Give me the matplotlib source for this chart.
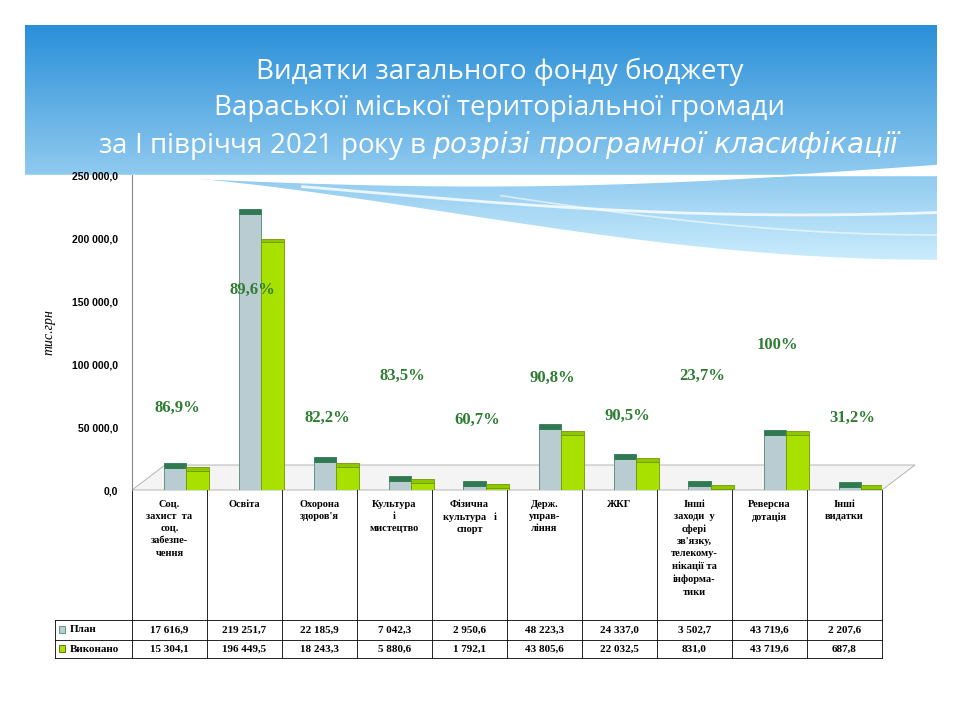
import numpy as np
import matplotlib
matplotlib.use("Agg")
import matplotlib.pyplot as plt
from matplotlib.patches import Polygon, Rectangle

categories = ["Соц.\nзахист  та\nсоц.\nзабезпе-\nчення", "Освіта", "Охорона\nздоров'я",
              "Культура\nі\nмистецтво", "Фізична\nкультура   і\nспорт", "Держ.\nуправ-\nління",
              "ЖКГ", "Інші\nзаходи  у\nсфері\nзв'язку,\nтелекому-\nнікації та\nінформа-\nтики",
              "Реверсна\nдотація", "Інші\nвидатки"]
plan = [17616.9, 219251.7, 22185.9, 7042.3, 2950.6, 48223.3, 24337.0, 3502.7, 43719.6, 2207.6]
done = [15304.1, 196449.5, 18243.3, 5880.6, 1792.1, 43805.6, 22032.5, 831.0, 43719.6, 687.8]
pct = ["86,9%", "89,6%", "82,2%", "83,5%", "60,7%", "90,8%", "90,5%", "23,7%", "100%", "31,2%"]
label_y = [65000, 158700, 57000, 90500, 55500, 89000, 58700, 90500, 115000, 57000]
plan_txt = ["17 616,9", "219 251,7", "22 185,9", "7 042,3", "2 950,6", "48 223,3",
            "24 337,0", "3 502,7", "43 719,6", "2 207,6"]
done_txt = ["15 304,1", "196 449,5", "18 243,3", "5 880,6", "1 792,1", "43 805,6",
            "22 032,5", "831,0", "43 719,6", "687,8"]

W, H = 960, 720
fig = plt.figure(figsize=(9.6, 7.2), dpi=100)
fig.patch.set_facecolor("white")

# background slide: blue header with wave
bg = fig.add_axes([0, 0, 1, 1], zorder=0)
bg.set_xlim(0, W); bg.set_ylim(H, 0); bg.axis("off")
cmap = matplotlib.colors.LinearSegmentedColormap.from_list("b", ["#2a8fd8", "#cdeefd"])
bg.imshow(np.linspace(0, 1, 256).reshape(-1, 1), extent=(25, 937, 265, 25), cmap=cmap,
          aspect="auto", zorder=0)
xs = np.linspace(25, 937, 300)
t = np.clip((xs - 130) / (937 - 130), 0, 1)
lower = 175 + 85 * np.sin(t * np.pi / 2) ** 1.5
lower[xs < 130] = 175
upper = 175 + 15 * np.sin(t * np.pi) - 10 * t
upper[xs < 130] = 175
bg.fill_between(xs, lower, 270, color="white", zorder=1)
bg.fill_between(xs, 175, upper, where=xs >= 130, color="white", zorder=1)
bg.plot(xs[xs > 300], (lower + upper)[xs > 300] / 2, color="white", lw=2, alpha=0.8, zorder=1)
bg.plot(xs[xs > 500], lower[xs > 500] - 25, color="white", lw=1.2, alpha=0.6, zorder=1)
bg.text(500, 72, "Видатки загального фонду бюджету", color="white", fontsize=20,
        ha="center", va="center", family="Open Sans")
bg.text(500, 108, "Вараської міської територіальної громади", color="white", fontsize=20,
        ha="center", va="center", family="Open Sans")
bg.text(500, 146, "за І півріччя 2021 року в $\\it{розрізі\\ програмної\\ класифікації}$",
        color="white", fontsize=20, ha="center", va="center", family="Open Sans")
# floor
bg.add_patch(Polygon([[132, 490], [882, 490], [915, 465], [165, 465]], closed=True,
                     facecolor="#f4f4f4", edgecolor="#aaaaaa", lw=0.6, zorder=1))

# chart
x0, x1, y0, y1 = 132, 882, 490, 175
ax = fig.add_axes([x0 / W, 1 - y0 / H, (x1 - x0) / W, (y0 - y1) / H], zorder=2)
ax.patch.set_alpha(0)
ax.set_xlim(0, 10)
ax.set_ylim(0, 250000)
ticks = np.arange(0, 250001, 50000)
ax.set_yticks(ticks)
ax.set_yticklabels([f"{int(v/1000)} 000,0" if v else "0,0" for v in ticks],
                   fontsize=7.5, fontweight="bold", family="Liberation Sans")
ax.set_xticks([])
for s in ("top", "right", "bottom"):
    ax.spines[s].set_visible(False)
ax.spines["left"].set_color("#888888")
ax.tick_params(axis="y", length=0, pad=10)
ax.set_ylabel("тис.грн", fontsize=10, style="italic", family="Liberation Serif", labelpad=12)
pos = np.arange(10) + 0.5 + 0.22
bw = 0.3
ax.bar(pos - bw / 2, plan, width=bw, color="#b9ccd2", edgecolor="#4f8a6a", lw=0.6, zorder=3)
ax.bar(pos + bw / 2, done, width=bw, color="#a8e000", edgecolor="#6f9a00", lw=0.6, zorder=3)
for p, v in zip(pos - bw / 2, plan):
    ax.add_patch(Rectangle((p - bw / 2, v), bw, 4000, facecolor="#2f7a52",
                           edgecolor="#2f7a52", lw=0.6, zorder=4))
for p, v in zip(pos + bw / 2, done):
    ax.add_patch(Rectangle((p - bw / 2, v), bw, 3000, facecolor="#8fc800",
                           edgecolor="#6f9a00", lw=0.6, zorder=4))
for p, t_, ly in zip(np.arange(10) + 0.6, pct, label_y):
    ax.text(p, ly, t_, ha="center", va="center", fontsize=12, fontweight="bold",
            color="#2e7d32", family="Liberation Serif", zorder=5)

# data table
cw = 75
yt0, yt1, yt2, yt3 = 490, 620, 640, 658
for i in range(11):
    bg.plot([x0 + i * cw] * 2, [yt0, yt3], color="black", lw=0.6, zorder=2)
bg.plot([55, 55], [yt1, yt3], color="black", lw=0.6, zorder=2)
for y in (yt1, yt2, yt3):
    bg.plot([55, x1], [y, y], color="black", lw=0.6, zorder=2)
for i, c in enumerate(categories):
    bg.text(x0 + i * cw + cw / 2, yt0 + 10, c, ha="center", va="top", fontsize=7.5,
            fontweight="bold", family="Liberation Serif", linespacing=1.45, zorder=3)
    bg.text(x0 + i * cw + cw / 2, (yt1 + yt2) / 2, plan_txt[i], ha="center", va="center",
            fontsize=8, fontweight="bold", family="Liberation Serif", zorder=3)
    bg.text(x0 + i * cw + cw / 2, (yt2 + yt3) / 2, done_txt[i], ha="center", va="center",
            fontsize=8, fontweight="bold", family="Liberation Serif", zorder=3)
bg.add_patch(Rectangle((59, 626), 6, 7, facecolor="#b9ccd2", edgecolor="#4f8a6a", lw=0.6, zorder=3))
bg.add_patch(Rectangle((59, 645), 6, 7, facecolor="#a8e000", edgecolor="#4a6a00", lw=0.6, zorder=3))
bg.text(70, (yt1 + yt2) / 2, "План", va="center", fontsize=8, fontweight="bold",
        family="Liberation Serif", zorder=3)
bg.text(70, (yt2 + yt3) / 2, "Виконано", va="center", fontsize=8, fontweight="bold",
        family="Liberation Serif", zorder=3)

fig.savefig("out.png", dpi=100)
